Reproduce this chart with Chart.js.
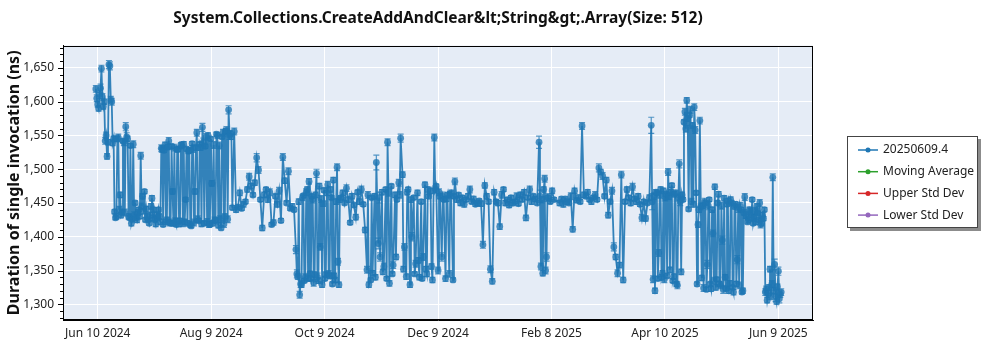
<!DOCTYPE html>
<html>
<head>
<meta charset="utf-8">
<script src="https://cdn.jsdelivr.net/npm/chart.js@4/dist/chart.umd.min.js"></script>
<style>
  html, body { margin: 0; padding: 0; background: #fff; }
</style>
</head>
<body>
<canvas id="chart" width="1000" height="350"></canvas>
<script>
const chartTitle = 'System.Collections.CreateAddAndClear&lt;String&gt;.Array(Size: 512)';
const yAxisTitle = 'Duration of single invocation (ns)';
const seriesNames = ['20250609.4', 'Moving Average', 'Upper Std Dev', 'Lower Std Dev'];
const seriesColors = ['#1f77b4', '#2ca02c', '#d62728', '#9467bd'];

// x axis is in days counted from axisOrigin
const axisOrigin = '2024-06-10';
const firstRunDate = '2024-06-09';
const tickOffsets = [0, 60.67, 121.33, 182, 242.67, 303.33, 364];
const tickLabels = ['Jun 10 2024', 'Aug 9 2024', 'Oct 9 2024', 'Dec 9 2024', 'Feb 8 2025', 'Apr 10 2025', 'Jun 9 2025'];

// first run of each day, starting at firstRunDate (null = no run that day)
const durations = [
  1619, 1596, 1611, 1649, 1593, 1542, 1519, 1655, 1603, 1539,
  1437, 1430, 1547, 1462, 1436, 1540, 1563, 1545, 1428, 1420,
  1537, 1450, 1425, 1440, 1520, 1460, 1467, 1441, 1425, 1432,
  1457, 1440, 1419, 1428, 1430, 1531, 1418, 1536, 1425, 1542,
  1420, 1467, 1532, 1418, 1530, 1424, 1535, 1537, 1455, 1420,
  1528, 1416, 1530, 1467, 1554, 1424, 1532, 1562, 1420, 1548,
  1550, 1418, 1479, 1536, 1425, 1550, 1535, 1413, 1554, 1430,
  1558, 1588, 1553, 1443, 1556, 1440, 1444, 1465, 1442, 1448,
  1452, 1470, 1489, 1475, 1462, 1480, 1517, 1499, 1455, 1413,
  1462, 1470, 1455, 1466, 1418, 1421, 1460, 1448, 1468, 1424,
  1518, 1483, 1450, 1497, 1442, 1445, 1440, 1381, 1341, 1314,
  1329, 1461, 1340, 1470, 1482, 1338, 1455, 1344, 1494, 1335,
  1385, 1329, 1469, 1344, 1477, 1342, 1458, 1484, 1336, 1503,
  1329, 1458, 1465, 1450, 1472, 1455, 1421, 1460, 1447, 1429,
  1466, 1452, 1470, 1448, 1410, 1351, 1329, 1336, 1346, 1460,
  1510, 1390, 1370, 1466, 1356, 1470, 1540, 1331, 1475, 1358,
  1462, 1455, 1480, 1546, 1492, 1385, 1341, 1470, 1329, 1400,
  1458, 1360, 1465, 1340, 1452, 1370, 1477, 1345, 1460, 1468,
  1336, 1547, 1475, 1350, 1460, 1370, 1455, 1338, 1462, 1345,
  1465, 1336, 1482, 1455, 1462, 1450, 1458, 1448, 1455, 1460,
  1470, 1452, 1456, 1448, 1450, 1453, 1449, 1388, 1476, 1460,
  1452, 1352, 1334, 1466, 1452, 1450, 1415, 1462, 1470, 1450,
  1455, 1447, 1458, 1450, 1452, 1460, 1449, 1462, 1455, 1466,
  1428, 1458, 1470, 1452, 1460, 1456, 1450, 1540, 1356, 1346,
  1486, 1370, 1458, 1452, 1468, 1455, null, null, 1450, 1456,
  1448, 1456, 1452, 1450, 1460, 1411, 1468, 1454, 1458, 1452,
  1564, 1462, 1460, 1466, 1455, 1452, 1458, 1462, 1455, 1502,
  1496, 1490, 1460, 1484, 1432, 1452, 1468, 1385, 1370, 1346,
  1358, 1492, 1336, 1452, 1470, 1458, 1450, 1474, 1456, 1452,
  1460, 1448, 1428, 1452, 1427, 1450, 1458, 1565, 1337, 1320,
  1465, 1376, 1470, 1346, 1337, 1463, 1496, 1351, 1476, 1341,
  1465, 1328, 1508, 1348, 1455, 1585, 1602, 1441, 1588, 1565,
  1592, 1465, 1418, 1572, 1339, 1324, 1450, 1359, 1455, 1323,
  1405, 1474, 1337, 1463, 1328, 1395, 1457, 1323, 1453, 1331,
  1450, 1318, 1448, 1366, 1328, 1440, 1320, 1459, 1430, 1425,
  1438, 1455, 1428, 1422, 1435, 1450, 1420, 1427, 1318, 1306,
  1325, 1312, 1488, 1359, 1304, 1349, 1315
];

// second run of the same day, half a day later (null = single run)
const secondRuns = [
  1605, 1590, 1620, 1607, 1600, 1550, 1540, 1653, 1600, 1545,
  1428, 1545, 1440, 1432, 1542, 1436, 1548, 1430, 1535, 1426,
  1432, 1428, 1436, 1430, 1445, 1438, 1425, 1430, 1420, 1445,
  1428, 1425, 1432, 1440, 1422, 1530, 1528, 1422, 1533, 1421,
  1534, 1420, 1423, 1529, 1419, 1536, 1420, 1422, 1530, 1527,
  1418, 1538, 1421, 1532, 1426, 1537, 1419, 1540, 1534, 1422,
  1418, 1545, 1420, 1424, 1552, 1417, 1426, 1548, 1419, 1556,
  1426, 1550, 1548, null, null, null, null, null, null, null,
  null, null, null, null, null, null, null, null, null, null,
  null, null, null, null, null, null, null, null, null, null,
  null, null, null, null, null, null, null, 1345, 1452, 1330,
  1458, 1335, 1466, 1338, 1345, 1460, 1332, 1462, 1340, 1475,
  1456, 1449, 1338, 1465, 1345, 1470, 1330, 1342, 1452, 1363,
  1455, null, null, null, null, null, null, null, null, null,
  null, null, null, null, null, 1462, null, 1458, null, 1340,
  null, 1458, null, 1348, null, 1338, 1465, null, 1345, null,
  1370, null, 1462, null, 1352, null, 1466, null, 1455, null,
  1345, null, 1365, null, 1338, null, 1352, 1470, null, 1356,
  null, 1470, null, 1466, null, 1460, null, 1456, null, 1462,
  null, 1460, null, null, null, null, null, null, null, null,
  null, null, null, null, null, null, null, null, null, null,
  null, null, null, null, null, null, null, null, null, null,
  null, null, null, null, null, null, null, null, null, null,
  null, null, null, null, null, null, null, 1460, 1455, 1470,
  1350, 1458, null, null, null, null, null, null, null, null,
  null, null, null, null, null, null, null, null, null, null,
  null, null, null, null, null, null, null, null, null, null,
  null, null, null, null, null, null, null, null, null, null,
  null, null, null, null, null, null, null, null, null, null,
  null, null, null, null, null, null, null, 1452, 1460, 1466,
  1338, 1462, 1340, 1468, 1458, 1342, 1460, 1466, 1335, 1463,
  1330, 1458, 1452, 1462, 1570, 1560, 1575, 1580, 1452, 1448,
  1558, 1330, 1440, 1445, 1446, 1452, 1322, 1446, 1330, 1440,
  1335, 1325, 1450, 1330, 1446, 1322, 1340, 1448, 1320, 1455,
  1325, 1445, 1330, 1442, 1446, 1318, 1436, 1432, 1422, 1440,
  1428, 1420, 1438, 1445, 1425, 1418, 1432, 1440, 1322, 1316,
  1352, 1330, 1320, 1312, 1326, 1308, 1318
];

// standard deviation of each day's runs (error bar half height, ns)
const stdDevs = [
  5, 4, 6, 5, 4, 5, 4, 6, 5, 4,
  3, 4, 5, 4, 3, 5, 6, 4, 3, 4,
  5, 3, 4, 3, 5, 4, 3, 4, 3, 4,
  4, 3, 4, 3, 4, 5, 3, 4, 4, 5,
  3, 4, 5, 3, 4, 3, 5, 4, 3, 4,
  4, 3, 5, 4, 5, 3, 4, 6, 3, 5,
  4, 3, 4, 5, 3, 4, 5, 3, 5, 4,
  5, 6, 4, 3, 5, 4, 3, 4, 3, 4,
  3, 4, 5, 4, 3, 4, 6, 5, 3, 4,
  4, 3, 4, 5, 3, 4, 3, 4, 5, 3,
  5, 4, 3, 5, 3, 4, 3, 6, 4, 5,
  4, 3, 5, 4, 4, 3, 5, 4, 6, 4,
  5, 4, 3, 4, 5, 4, 3, 4, 4, 5,
  4, 3, 4, 3, 5, 4, 3, 4, 3, 4,
  3, 4, 5, 3, 4, 5, 4, 3, 4, 4,
  11, 8, 6, 4, 5, 3, 5, 4, 3, 5,
  4, 3, 5, 6, 4, 5, 4, 3, 4, 6,
  3, 5, 4, 4, 3, 5, 4, 4, 3, 4,
  4, 5, 3, 5, 4, 6, 3, 4, 3, 5,
  4, 3, 5, 4, 3, 4, 3, 4, 3, 4,
  5, 3, 4, 3, 4, 3, 4, 5, 4, 4,
  3, 5, 4, 4, 3, 4, 4, 5, 3, 4,
  3, 4, 3, 4, 3, 5, 3, 4, 3, 4,
  4, 3, 5, 4, 3, 4, 3, 9, 5, 4,
  5, 6, 4, 3, 4, 3, 0, 0, 4, 3,
  4, 3, 4, 3, 5, 4, 4, 3, 4, 3,
  5, 4, 3, 4, 3, 4, 3, 5, 3, 6,
  4, 5, 3, 4, 4, 3, 5, 6, 4, 5,
  4, 5, 4, 3, 4, 3, 4, 5, 3, 4,
  4, 3, 5, 3, 4, 3, 4, 12, 5, 4,
  3, 5, 4, 4, 5, 3, 5, 4, 3, 4,
  4, 5, 6, 4, 3, 5, 4, 3, 5, 4,
  5, 3, 4, 5, 4, 5, 3, 6, 3, 4,
  5, 4, 3, 4, 5, 6, 4, 3, 4, 4,
  3, 4, 4, 6, 5, 3, 4, 5, 3, 4,
  4, 3, 5, 4, 3, 5, 4, 3, 5, 4,
  4, 5, 5, 8, 4, 6, 5
];

const xMin = -18.56, xMax = 382.5;
const yMin = 1276.7, yMax = 1683.1;
const fontFamily = '"Noto Sans", "Open Sans", sans-serif';

const dayMs = 86400000;
const startDay = (Date.parse(firstRunDate) - Date.parse(axisOrigin)) / dayMs;
const runPoints = [];
durations.forEach((v, i) => {
  runPoints.push({ x: startDay + i, y: v, sd: stdDevs[i] });
  if (secondRuns[i] != null) runPoints.push({ x: startDay + i + 0.5, y: secondRuns[i], sd: stdDevs[i] });
});

const plotBackground = {
  id: 'plotBackground',
  beforeDraw(chart) {
    const { ctx, chartArea: a } = chart;
    ctx.save();
    ctx.fillStyle = '#e5ecf6';
    ctx.fillRect(a.left, a.top, a.width, a.height);
    ctx.restore();
  }
};

const errorBars = {
  id: 'errorBars',
  beforeDatasetsDraw(chart) {
    const { ctx, chartArea: a, scales: { x, y } } = chart;
    ctx.save();
    ctx.beginPath();
    ctx.rect(a.left, a.top, a.width, a.height);
    ctx.clip();
    ctx.strokeStyle = 'rgba(31,119,180,0.75)';
    ctx.lineWidth = 1.2;
    runPoints.forEach(p => {
      if (p.y == null || !p.sd) return;
      const px = x.getPixelForValue(p.x);
      const top = y.getPixelForValue(p.y + p.sd);
      const bot = y.getPixelForValue(p.y - p.sd);
      ctx.beginPath();
      ctx.moveTo(px, top); ctx.lineTo(px, bot);
      ctx.moveTo(px - 3, top); ctx.lineTo(px + 3, top);
      ctx.moveTo(px - 3, bot); ctx.lineTo(px + 3, bot);
      ctx.stroke();
    });
    ctx.restore();
  }
};

const frameAndTicks = {
  id: 'frameAndTicks',
  afterDraw(chart) {
    const { ctx, chartArea: a, scales: { y } } = chart;
    ctx.save();
    ctx.strokeStyle = '#000';
    ctx.lineWidth = 1;
    ctx.beginPath();
    y.ticks.forEach(t => {
      const py = Math.round(y.getPixelForValue(t.value)) + 0.5;
      const len = t.value % 50 === 0 ? 5 : 3;
      ctx.moveTo(a.left - len, py);
      ctx.lineTo(a.left, py);
    });
    ctx.stroke();
    ctx.strokeRect(Math.round(a.left) + 0.5, Math.round(a.top) + 0.5, Math.round(a.width) - 1, Math.round(a.height) - 1);
    ctx.restore();
  }
};

const boxLegend = {
  id: 'boxLegend',
  afterDraw(chart) {
    const ctx = chart.ctx;
    const bx = 847, by = 136, bw = 131, bh = 92;
    ctx.save();
    ctx.fillStyle = 'rgba(0,0,0,0.45)';
    ctx.fillRect(bx + 3, by + 3, bw, bh);
    ctx.fillStyle = '#fff';
    ctx.fillRect(bx, by, bw, bh);
    ctx.strokeStyle = '#444';
    ctx.lineWidth = 1;
    ctx.strokeRect(bx + 0.5, by + 0.5, bw - 1, bh - 1);
    ctx.font = '12px ' + fontFamily;
    ctx.textBaseline = 'middle';
    chart.data.datasets.forEach((ds, i) => {
      const cy = by + 14 + i * 21.7;
      ctx.strokeStyle = seriesColors[i];
      ctx.fillStyle = seriesColors[i];
      ctx.lineWidth = 1.5;
      ctx.beginPath();
      ctx.moveTo(858, cy);
      ctx.lineTo(878, cy);
      ctx.stroke();
      ctx.beginPath();
      ctx.arc(868, cy, 2.5, 0, Math.PI * 2);
      ctx.fill();
      ctx.fillStyle = '#222';
      ctx.fillText(ds.label, 883, cy);
    });
    ctx.restore();
  }
};

new Chart(document.getElementById('chart'), {
  type: 'line',
  data: {
    datasets: [
      {
        label: seriesNames[0],
        data: runPoints,
        borderColor: 'rgba(31,119,180,0.9)',
        backgroundColor: 'rgba(31,119,180,0.8)',
        borderWidth: 1.8,
        pointRadius: 3.4,
        pointBorderWidth: 0,
        spanGaps: true,
        tension: 0,
      },
      { label: seriesNames[1], data: [], borderColor: seriesColors[1], backgroundColor: seriesColors[1] },
      { label: seriesNames[2], data: [], borderColor: seriesColors[2], backgroundColor: seriesColors[2] },
      { label: seriesNames[3], data: [], borderColor: seriesColors[3], backgroundColor: seriesColors[3] },
    ],
  },
  options: {
    responsive: false,
    animation: false,
    devicePixelRatio: 1,
    layout: { padding: { left: 4, right: 187, top: 0, bottom: 0 } },
    plugins: {
      legend: { display: false },
      tooltip: { enabled: false },
      title: {
        display: true,
        text: chartTitle,
        fullSize: false,
        color: '#111',
        font: { family: fontFamily, size: 15.5, weight: 'bold' },
        padding: { top: 9, bottom: 18 },
      },
    },
    scales: {
      x: {
        type: 'linear',
        min: xMin,
        max: xMax,
        afterBuildTicks: s => { s.ticks = tickOffsets.map(v => ({ value: v })); },
        afterFit: s => { s.height = 30; },
        grid: { color: '#fff', lineWidth: 1, drawTicks: false },
        border: { display: true, color: '#000', width: 1 },
        ticks: {
          autoSkip: false,
          maxRotation: 0,
          padding: 6,
          color: '#222',
          font: { family: fontFamily, size: 12 },
          callback: (v, i) => tickLabels[i],
        },
      },
      y: {
        type: 'linear',
        min: yMin,
        max: yMax,
        afterBuildTicks: s => {
          const t = [];
          for (let v = 1280; v <= 1680; v += 10) t.push({ value: v });
          s.ticks = t;
        },
        afterFit: s => { s.width = 59; },
        grid: {
          color: c => (c.tick && c.tick.value % 50 === 0 ? '#fff' : 'rgba(0,0,0,0)'),
          lineWidth: 1,
          drawTicks: false,
        },
        border: { display: true, color: '#000', width: 1 },
        title: {
          display: true,
          text: yAxisTitle,
          color: '#111',
          font: { family: fontFamily, size: 16, weight: 'bold' },
          padding: { top: 1, bottom: 0 },
        },
        ticks: {
          autoSkip: false,
          padding: 9,
          color: '#222',
          font: { family: fontFamily, size: 12 },
          callback: v => (v % 50 === 0 ? v.toLocaleString('en-US') : ''),
        },
      },
    },
  },
  plugins: [plotBackground, errorBars, frameAndTicks, boxLegend],
});
</script>
</body>
</html>
